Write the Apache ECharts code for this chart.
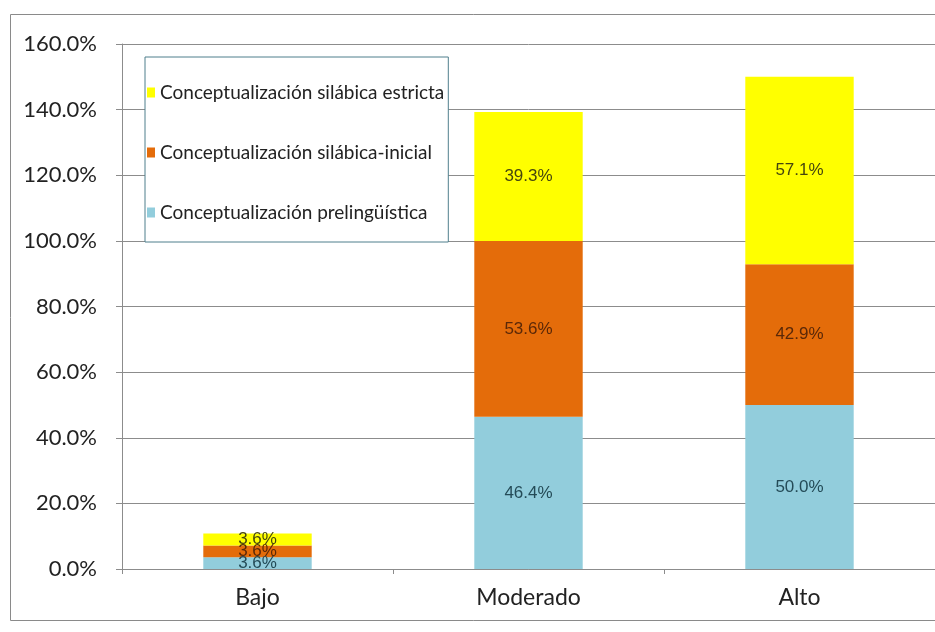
<!DOCTYPE html>
<html>
<head>
<meta charset="utf-8">
<style>
  html, body { margin: 0; padding: 0; background: #fff; }
  #chart { width: 935px; height: 632px; }
</style>
<script src="https://cdn.jsdelivr.net/npm/echarts@6/dist/echarts.min.js"></script>
</head>
<body>
<div id="chart"></div>
<script>
// categories and values (percent)
const categories = ['Bajo', 'Moderado', 'Alto'];
const prelinguistica = [3.6, 46.4, 50.0];
const silabicaInicial = [3.6, 53.6, 42.9];
const silabicaEstricta = [3.6, 39.3, 57.1];
const yTicks = [0, 20, 40, 60, 80, 100, 120, 140, 160];

const names = [
  'Conceptualización prelingüística',
  'Conceptualización silábica-inicial',
  'Conceptualización silábica estricta'
];
const colors = ['#92CDDC', '#E46C0A', '#FFFF00'];
const labelColors = ['#244b57', '#5a2808', '#46460e'];

const chart = echarts.init(document.getElementById('chart'));

function makeSeries(name, data, i) {
  return {
    name: name,
    type: 'bar',
    stack: 'total',
    data: data,
    barWidth: '40%',
    itemStyle: { color: colors[i] },
    label: {
      show: true,
      position: 'inside',
      formatter: p => p.value.toFixed(1) + '%',
      fontFamily: 'Liberation Sans',
      fontSize: 17,
      color: labelColors[i]
    }
  };
}

chart.setOption({
  animation: false,
  graphic: [{
    type: 'rect',
    shape: { x: 10.5, y: 14.5, width: 960, height: 606 },
    style: { fill: 'none', stroke: '#8a8a8a', lineWidth: 1 },
    z: -1
  }],
  grid: { left: 122, top: 44, width: 828, height: 525 },
  legend: {
    orient: 'vertical',
    left: 145,
    top: 57,
    data: [names[2], names[1], names[0]],
    itemWidth: 8,
    itemHeight: 10,
    itemGap: 41,
    padding: [26, 4, 20, 2],
    borderColor: '#4f7f8c',
    borderWidth: 1,
    backgroundColor: '#fff',
    icon: 'rect',
    textStyle: { fontFamily: 'Lato', fontSize: 19, color: '#222' }
  },
  xAxis: {
    type: 'category',
    data: categories,
    axisLine: { lineStyle: { color: '#8c8c8c' } },
    axisTick: { show: true, length: 5, lineStyle: { color: '#8c8c8c' } },
    axisLabel: { fontFamily: 'Lato', fontSize: 23, color: '#222', margin: 17 }
  },
  yAxis: {
    type: 'value',
    min: yTicks[0],
    max: yTicks[yTicks.length - 1],
    interval: 20,
    axisLine: { show: true, lineStyle: { color: '#8c8c8c' } },
    axisTick: { show: true, length: 6, lineStyle: { color: '#8c8c8c' } },
    splitLine: { lineStyle: { color: '#8c8c8c' } },
    axisLabel: {
      fontFamily: 'Lato', fontSize: 22, color: '#222', margin: 25,
      formatter: v => v.toFixed(1) + '%'
    }
  },
  series: [
    makeSeries(names[0], prelinguistica, 0),
    makeSeries(names[1], silabicaInicial, 1),
    makeSeries(names[2], silabicaEstricta, 2)
  ]
});
</script>
</body>
</html>
